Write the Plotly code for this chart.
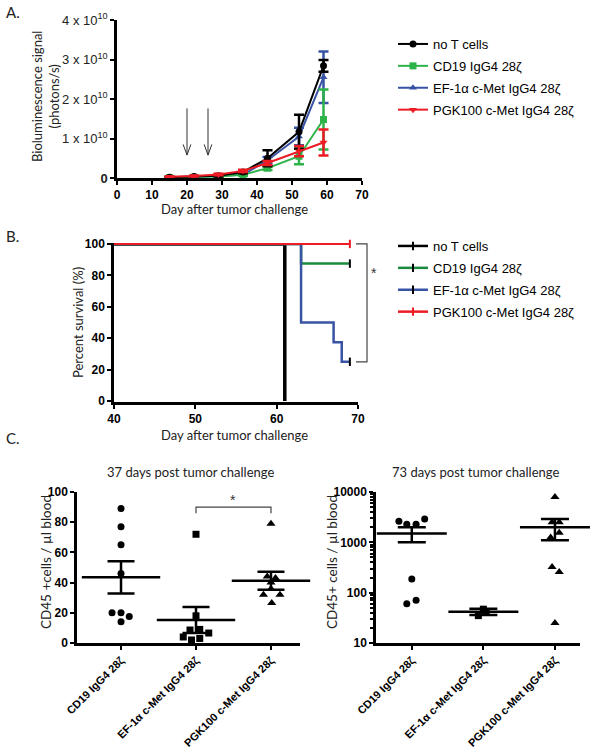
import plotly.graph_objects as go

W, H = 594, 750

# ---------------- Panel A data (bioluminescence, units of 1e10 photons/s) -------------
days_A = [15, 22, 29, 36, 43, 52, 59]
lum_noT = [0.02, 0.04, 0.06, 0.15, 0.50, 1.17, 2.84]
lum_noT_err = [0.01, 0.01, 0.02, 0.03, 0.20, 0.43, 0.15]
lum_cd19 = [0.01, 0.02, 0.04, 0.08, 0.25, 0.55, 1.48]
lum_cd19_err = [0.01, 0.01, 0.01, 0.02, 0.05, 0.20, 0.76]
lum_ef1a = [0.01, 0.03, 0.05, 0.08, 0.45, 1.05, 2.55]
lum_ef1a_err = [0.01, 0.01, 0.02, 0.02, 0.08, 0.22, 0.65]
lum_pgk = [0.03, 0.05, 0.09, 0.18, 0.38, 0.68, 0.90]
lum_pgk_err = [0.01, 0.01, 0.02, 0.03, 0.05, 0.13, 0.33]
injection_days = [20, 26]
A_yticks = [0, 1, 2, 3, 4]
A_yticktext = ["<b>0</b>", "1 x 10<sup>10</sup>", "2 x 10<sup>10</sup>",
               "3 x 10<sup>10</sup>", "4 x 10<sup>10</sup>"]

# ---------------- Panel B data (survival) -------------
surv_noT_days = [40, 61]
surv_noT = [100, 0]
surv_cd19_days = [40, 63, 69]
surv_cd19 = [100, 87.5, 87.5]
surv_ef1a_days = [40, 63, 67, 68, 69]
surv_ef1a = [100, 50, 37.5, 25, 25]
surv_pgk_days = [40, 69]
surv_pgk = [100, 100]

# ---------------- Panel C data -------------
cats = ["CD19 IgG4 28ζ", "EF-1α c-Met IgG4 28ζ", "PGK100 c-Met IgG4 28ζ"]
d37_cd19 = [89, 77, 65, 46, 20, 20, 17.5, 14]
d37_cd19_jit = [0, 0, 0, 0, -0.12, 0, 0.11, 0]
d37_ef1a = [72, 18, 9, 8.6, 6.6, 4, 3, 2]
d37_ef1a_jit = [0, 0, 0.05, -0.08, 0.17, -0.17, 0.05, -0.06]
d37_pgk = [79, 44, 43, 40, 36, 32, 32, 26.5]
d37_pgk_jit = [0, -0.05, 0.06, 0, 0, -0.1, 0.12, 0.01]
mean_37 = [43.5, 15.2, 41.2]
sem_37 = [10.7, 8.6, 6.0]

d73_cd19 = [2630, 2300, 2300, 2900, 186, 60, 71]
d73_cd19_jit = [-0.18, -0.07, 0.06, 0.18, 0, -0.07, 0.06]
d73_ef1a = [47, 35, 42]
d73_ef1a_jit = [0.0, -0.07, 0.04]
d73_pgk = [8000, 2500, 2500, 1250, 1550, 325, 257, 25]
d73_pgk_jit = [0, -0.04, 0.06, -0.06, 0.06, -0.04, 0.06, 0]
mean_73 = [1500, 42, 2000]
sem_73 = [500, 6, 900]

BLACK, GREEN, BLUE, RED = "#000000", "#2db34a", "#3953a4", "#ed1c24"
GREEN_B = "#1a8a3e"
BOLDTICK = dict(family="Liberation Sans", size=12, color="black", weight="bold")


def px(x):
    return x / W


def py(y):
    return 1 - y / H


fig = go.Figure()

# ---------- Panel A traces ----------
seriesA = [
    ("no T cells", lum_noT, lum_noT_err, BLACK, "circle"),
    ("CD19 IgG4 28ζ", lum_cd19, lum_cd19_err, GREEN, "square"),
    ("EF-1α c-Met IgG4 28ζ", lum_ef1a, lum_ef1a_err, BLUE, "triangle-up"),
    ("PGK100 c-Met IgG4 28ζ", lum_pgk, lum_pgk_err, RED, "triangle-down"),
]
traces = []
for i, (name, vals, err, col, sym) in enumerate(seriesA):
    traces.append(go.Scatter(
        x=days_A, y=vals, name=name, mode="lines+markers",
        line=dict(color=col, width=2),
        marker=dict(color=col, symbol=sym, size=7),
        error_y=dict(type="data", array=err, color=col, thickness=2.5, width=5),
        xaxis="x", yaxis="y", legend="legend", legendgroup="a%d" % i, legendrank=i + 1,
        cliponaxis=False,
    ))
for idx in [2, 1, 0, 3]:
    fig.add_trace(traces[idx])

# ---------- Panel B traces ----------
seriesB = [
    ("no T cells", surv_noT_days, surv_noT, BLACK, 3.5, BLACK),
    ("CD19 IgG4 28ζ", surv_cd19_days, surv_cd19, GREEN_B, 2.5, BLACK),
    ("EF-1α c-Met IgG4 28ζ", surv_ef1a_days, surv_ef1a, BLUE, 2.5, BLACK),
    ("PGK100 c-Met IgG4 28ζ", surv_pgk_days, surv_pgk, RED, 2, RED),
]
for i, (name, d, s, col, lw, tickcol) in enumerate(seriesB):
    fig.add_trace(go.Scatter(
        x=d, y=s, mode="lines", line=dict(color=col, width=lw, shape="hv"),
        showlegend=False, xaxis="x2", yaxis="y2", cliponaxis=False,
    ))
    if name != "no T cells":
        fig.add_trace(go.Scatter(
            x=[d[-1]], y=[s[-1]], mode="markers",
            marker=dict(symbol="line-ns-open", size=6, color=tickcol,
                        line=dict(color=tickcol, width=2)),
            showlegend=False, xaxis="x2", yaxis="y2", cliponaxis=False,
        ))
for i, (name, d, s, col, lw, tickcol) in enumerate(seriesB):
    fig.add_trace(go.Scatter(
        x=[None], y=[None], name=name, mode="lines+markers",
        line=dict(color=col, width=2.5),
        marker=dict(symbol="line-ns-open", size=6, color=tickcol,
                    line=dict(color=tickcol, width=2)),
        xaxis="x2", yaxis="y2", legend="legend2", legendgroup="b%d" % i, legendrank=i + 1,
    ))

# ---------- Panel C traces ----------
def add_dots(vals, jit, cat_idx, sym, size, xa, ya):
    fig.add_trace(go.Scatter(
        x=[cat_idx + j for j in jit], y=vals, mode="markers",
        marker=dict(symbol=sym, size=size, color="black"),
        showlegend=False, xaxis=xa, yaxis=ya, cliponaxis=False,
    ))


add_dots(d37_cd19, d37_cd19_jit, 0, "circle", 7, "x3", "y3")
add_dots(d37_ef1a, d37_ef1a_jit, 1, "square", 7, "x3", "y3")
add_dots(d37_pgk, d37_pgk_jit, 2, "triangle-up", 8, "x3", "y3")
fig.add_trace(go.Scatter(
    x=[0, 1, 2], y=mean_37, mode="markers",
    marker=dict(symbol="line-ew-open", size=56, color="black",
                line=dict(color="black", width=2.5)),
    error_y=dict(type="data", array=sem_37, color="black", thickness=2.5, width=13.5),
    showlegend=False, xaxis="x3", yaxis="y3", cliponaxis=False,
))

add_dots(d73_cd19, d73_cd19_jit, 0, "circle", 7, "x4", "y4")
add_dots(d73_ef1a, d73_ef1a_jit, 1, "square", 7, "x4", "y4")
add_dots(d73_pgk, d73_pgk_jit, 2, "triangle-up", 8, "x4", "y4")
fig.add_trace(go.Scatter(
    x=[0, 1, 2], y=mean_73, mode="markers",
    marker=dict(symbol="line-ew-open", size=50, color="black",
                line=dict(color="black", width=2.5)),
    error_y=dict(type="data", array=sem_73, color="black", thickness=2.5, width=14),
    showlegend=False, xaxis="x4", yaxis="y4", cliponaxis=False,
))

# ---------- axes ----------
def ax(**kw):
    base = dict(showline=True, linecolor="black", linewidth=2.5, ticks="outside",
                tickcolor="black", tickwidth=2, ticklen=4, showgrid=False,
                zeroline=False, mirror=False, automargin=False, tickfont=BOLDTICK)
    base.update(kw)
    return base


fig.update_layout(
    width=W, height=H, autosize=False,
    margin=dict(l=0, r=0, t=0, b=0, autoexpand=False),
    paper_bgcolor="white", plot_bgcolor="white",
    xaxis=ax(domain=[px(117), px(362)], range=[0, 70], tickvals=list(range(0, 71, 10)),
             anchor="y"),
    yaxis=ax(domain=[py(178), py(20)], range=[0, 4], tickvals=A_yticks, ticktext=A_yticktext,
             tickfont=dict(family="Liberation Sans", size=13, color="#222222"), anchor="x"),
    xaxis2=ax(domain=[px(114), px(358)], range=[40, 70], tickvals=[40, 50, 60, 70],
              anchor="y2"),
    yaxis2=ax(domain=[py(402), py(243)], range=[-0.6, 100.6],
              tickvals=[0, 20, 40, 60, 80, 100], anchor="x2"),
    xaxis3=ax(domain=[px(77), px(300)], range=[-0.587, 2.387], tickvals=[0, 1, 2],
              ticktext=cats, tickangle=-45,
              tickfont=dict(family="Liberation Sans", size=11, color="black", weight="bold"),
              anchor="y3"),
    yaxis3=ax(domain=[py(643), py(492)], range=[0, 100], tickvals=[0, 20, 40, 60, 80, 100],
              anchor="x3"),
    xaxis4=ax(domain=[px(376), px(580)], range=[-0.5, 2.35], tickvals=[0, 1, 2],
              ticktext=cats, tickangle=-45,
              tickfont=dict(family="Liberation Sans", size=11, color="black", weight="bold"),
              anchor="y4"),
    yaxis4=ax(domain=[py(643), py(492)], type="log", range=[1, 4],
              tickvals=[10, 100, 1000, 10000], ticktext=["10", "100", "1000", "10000"],
              minor=dict(ticks="outside", ticklen=3, tickwidth=1.5, tickcolor="black",
                         tickvals=[v * m for m in (10, 100, 1000) for v in range(2, 10)]),
              anchor="x4"),
    legend=dict(x=px(393), y=py(29), xanchor="left", yanchor="top",
                font=dict(family="Liberation Sans", size=13, color="black"),
                bgcolor="rgba(0,0,0,0)", tracegroupgap=2, itemwidth=30,
                traceorder="grouped"),
    legend2=dict(x=px(393), y=py(231), xanchor="left", yanchor="top",
                 font=dict(family="Liberation Sans", size=13, color="black"),
                 bgcolor="rgba(0,0,0,0)", tracegroupgap=2, itemwidth=30,
                 traceorder="grouped"),
)

ann = []
for letter, y in [("A.", 12), ("B.", 236), ("C.", 438)]:
    ann.append(dict(text=letter, x=px(4), y=py(y), xref="paper", yref="paper",
                    xanchor="left", yanchor="middle", showarrow=False,
                    font=dict(family="Lato", size=15, color="#222222")))


def title(text, x, y, angle=0, size=13):
    return dict(text=text, x=px(x), y=py(y), xref="paper", yref="paper",
                xanchor="center", yanchor="middle", showarrow=False, textangle=angle,
                font=dict(family="Lato", size=size, color="#222222"))


ann += [
    title("Day after tumor challenge", 235, 209),
    title("Day after tumor challenge", 235, 435),
    title("Bioluminescence signal<br>(photons/s)", 46, 97, -90),
    title("Percent survival (%)", 78, 323, -90),
    title("CD45 +cells / µl blood", 46, 562, -90, 13.5),
    title("CD45+ cells / µl blood", 332, 562, -90, 13.5),
    title("37 days post tumor challenge", 190, 472),
    title("73 days post tumor challenge", 475, 472),
    dict(text="*", x=px(374), y=py(273), xref="paper", yref="paper", showarrow=False,
         xanchor="center", yanchor="middle",
         font=dict(family="Liberation Sans", size=14, color="#333333")),
    dict(text="*", x=1.5, y=95, xref="x3", yref="y3", showarrow=False,
         xanchor="center", yanchor="middle",
         font=dict(family="Liberation Sans", size=14, color="#333333")),
]
for d in injection_days:
    ann.append(dict(x=d, y=0.58, ax=d, ay=1.8, xref="x", yref="y", axref="x", ayref="y",
                    showarrow=True, arrowhead=0, arrowwidth=1, arrowcolor="#333333", text=""))
fig.update_layout(annotations=ann)

shapes = []
for d in injection_days:
    shapes.append(dict(type="path", xref="x", yref="y",
                       path="M %f %f L %f %f L %f %f" % (d - 1.1, 0.85, d, 0.58, d + 1.1, 0.85),
                       line=dict(color="#333333", width=1)))
shapes.append(dict(type="path", xref="paper", yref="y2",
                   path="M %f 100 L %f 100 L %f 25 L %f 25" % (px(356), px(367), px(367), px(356)),
                   line=dict(color="#444444", width=1.2)))
shapes.append(dict(type="path", xref="x3", yref="y3",
                   path="M 1 86 L 1 90 L 2 90 L 2 86", line=dict(color="#444444", width=1.2)))
fig.update_layout(shapes=shapes)

fig.write_html("out.html", config={"displayModeBar": False},
               post_script="document.body.style.margin='0';")
